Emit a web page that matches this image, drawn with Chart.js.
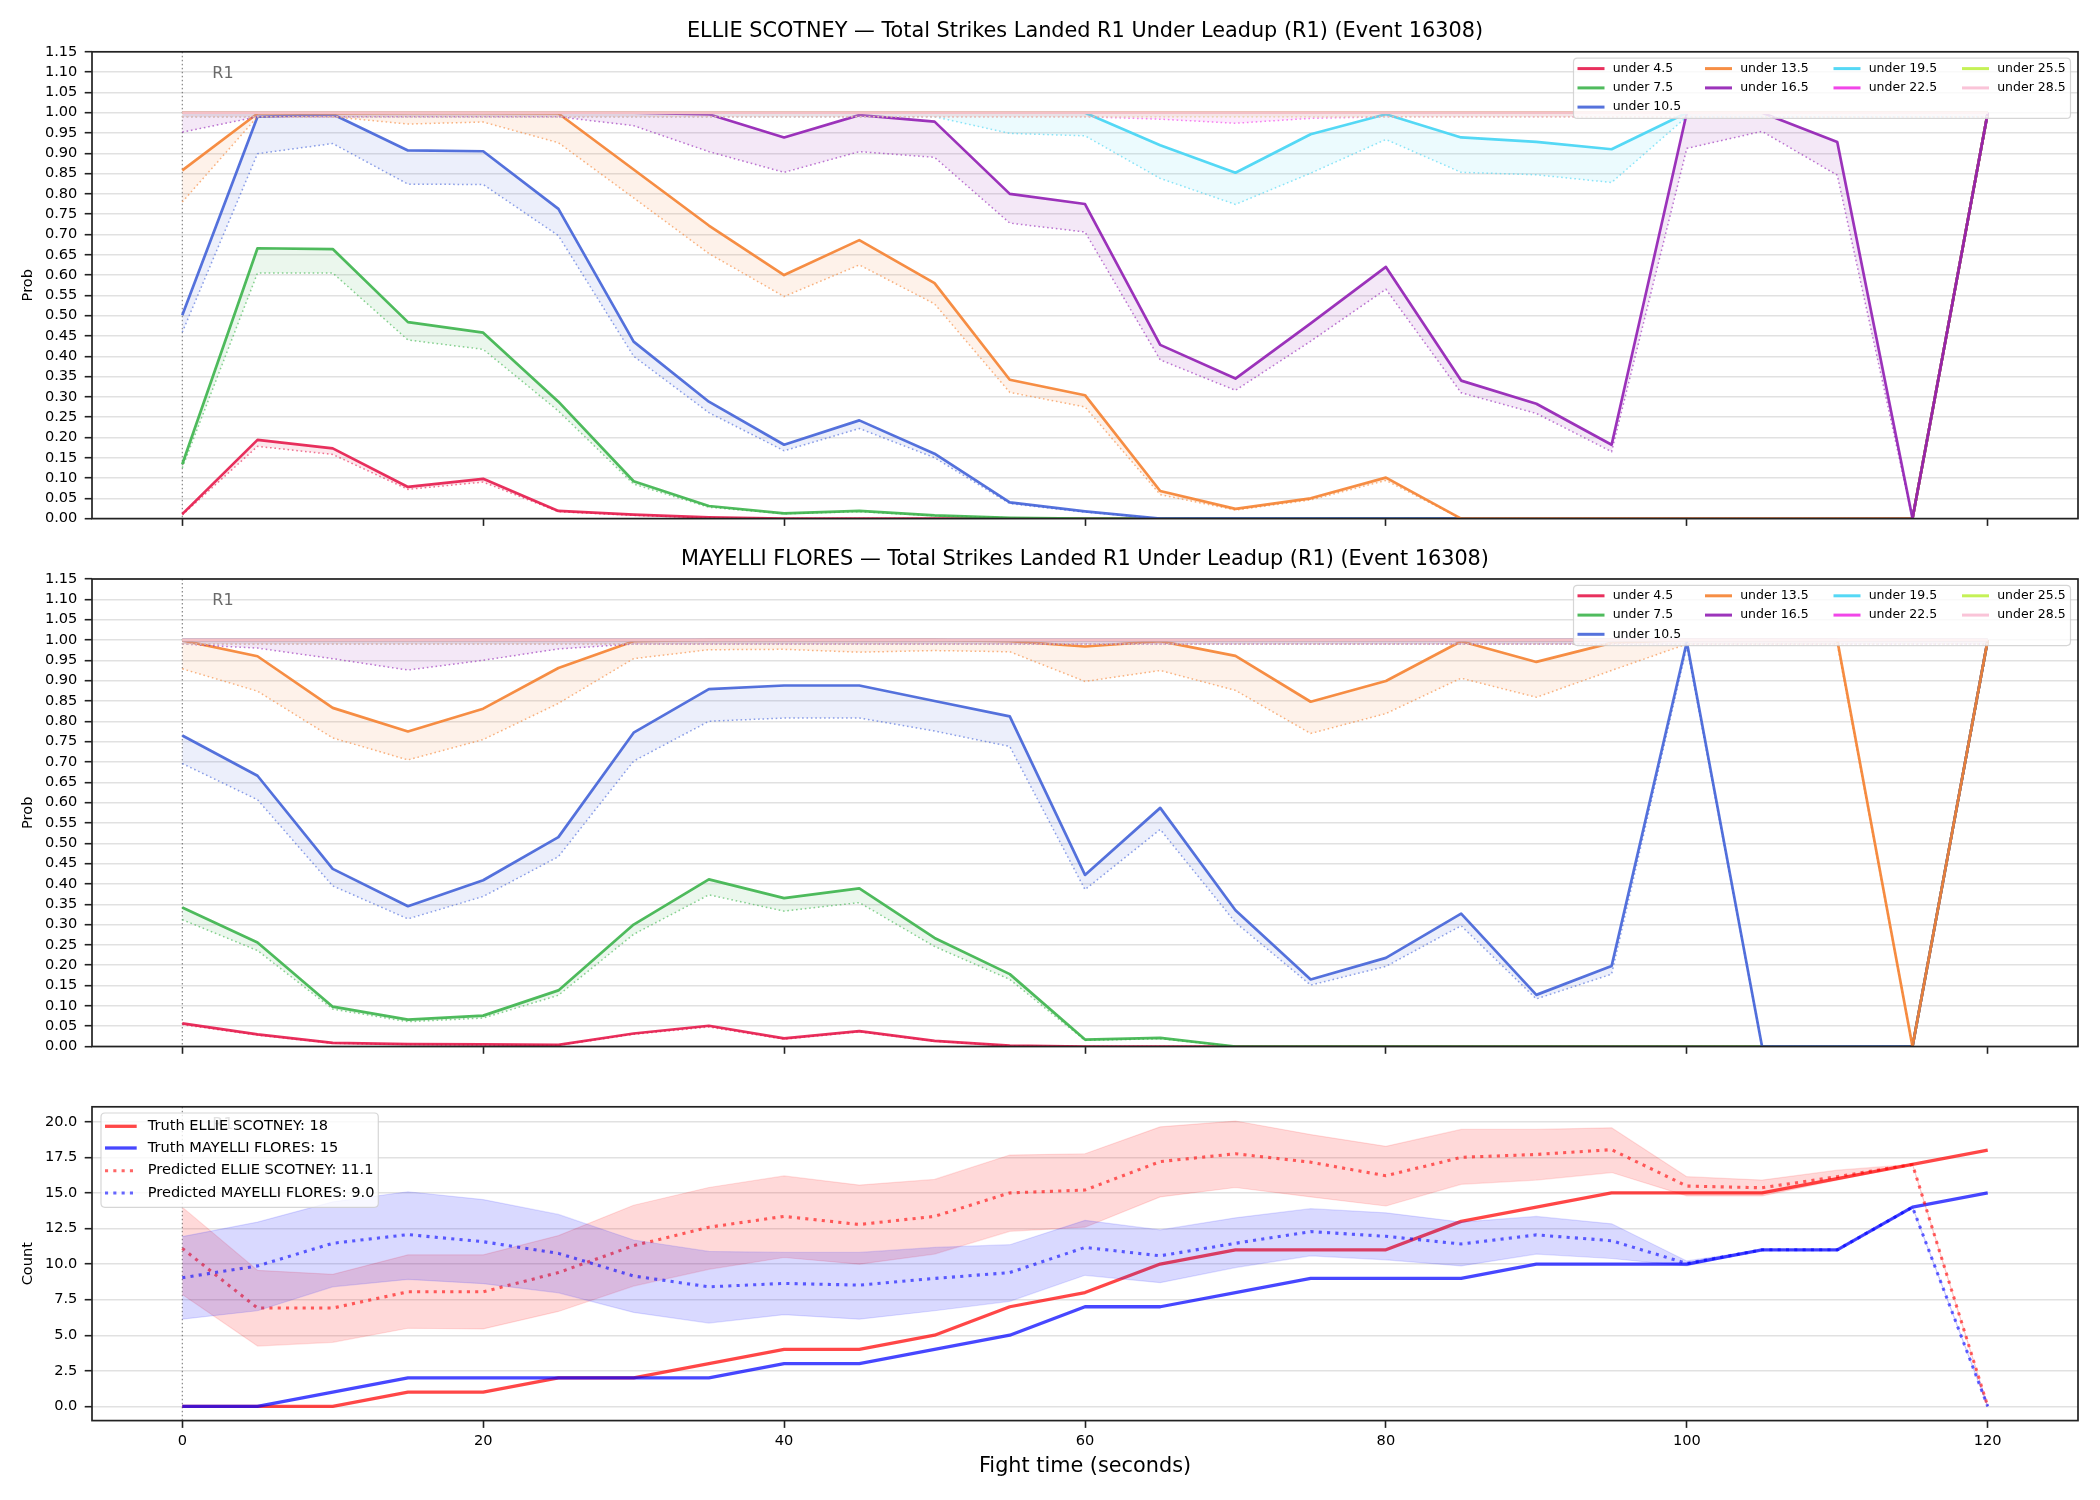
<!DOCTYPE html>
<html>
<head>
<meta charset="utf-8">
<title>Total Strikes Landed R1 Under Leadup</title>
<script src="https://cdn.jsdelivr.net/npm/chart.js@4.4.1/dist/chart.umd.min.js"></script>
<style>
html, body { margin:0; padding:0; background:#ffffff; }
#fig { position:relative; width:2100px; height:1500px; background:#ffffff; overflow:hidden; }
#fig canvas { position:absolute; left:0; }
</style>
</head>
<body>
<div id="fig">
<canvas id="c1" width="2100" height="540" style="top:0px"></canvas>
<canvas id="c2" width="2100" height="530" style="top:540px"></canvas>
<canvas id="c3" width="2100" height="430" style="top:1070px"></canvas>
</div>
<script>
// ---------------- DATA ----------------
const TIMES = [0,5,10,15,20,25,30,35,40,45,50,55,60,65,70,75,80,85,90,95,100,105,110,115,120];
const X_TICKS = [0,20,40,60,80,100,120];
const PROB_TICKS = [0.00,0.05,0.10,0.15,0.20,0.25,0.30,0.35,0.40,0.45,0.50,0.55,0.60,0.65,0.70,0.75,0.80,0.85,0.90,0.95,1.00,1.05,1.10,1.15];
const COUNT_TICKS = [0.0,2.5,5.0,7.5,10.0,12.5,15.0,17.5,20.0];

const FIGHTER_A = 'ELLIE SCOTNEY';
const FIGHTER_B = 'MAYELLI FLORES';
const TITLE_SUFFIX = ' \u2014 Total Strikes Landed R1 Under Leadup (R1) (Event 16308)';
const ROUND_LABEL = 'R1';

const THR_LABELS = ['under 4.5','under 7.5','under 10.5','under 13.5','under 16.5','under 19.5','under 22.5','under 25.5','under 28.5'];

// ELLIE SCOTNEY (top panel) : solid line and dotted line per threshold
const E_SOLID_4_5  = [0.011,0.194,0.173,0.078,0.098,0.019,0.010,0.003,0,0,0,0,0,0,0,0,0,0,0,0,0,0,0,0,1.0];
const E_DOT_4_5    = [0.009,0.178,0.158,0.072,0.090,0.017,0.008,0.002,0,0,0,0,0,0,0,0,0,0,0,0,0,0,0,0,0.99];
const E_SOLID_7_5  = [0.134,0.666,0.664,0.484,0.458,0.288,0.092,0.031,0.013,0.019,0.008,0.002,0,0,0,0,0,0,0,0,0,0,0,0,1.0];
const E_DOT_7_5    = [0.125,0.605,0.605,0.440,0.417,0.265,0.085,0.028,0.012,0.017,0.007,0.002,0,0,0,0,0,0,0,0,0,0,0,0,0.99];
const E_SOLID_10_5 = [0.501,0.990,0.996,0.907,0.905,0.763,0.436,0.288,0.182,0.242,0.160,0.040,0.018,0,0,0,0,0,0,0,0,0,0,0,1.0];
const E_DOT_10_5   = [0.459,0.899,0.924,0.824,0.823,0.697,0.400,0.261,0.167,0.222,0.150,0.037,0.016,0,0,0,0,0,0,0,0,0,0,0,0.99];
const E_SOLID_13_5 = [0.858,0.998,0.998,0.999,0.999,0.998,0.860,0.722,0.600,0.686,0.580,0.342,0.304,0.068,0.024,0.050,0.101,0,0,0,0,0,0,0,1.0];
const E_DOT_13_5   = [0.780,0.990,0.990,0.972,0.977,0.926,0.790,0.653,0.547,0.625,0.529,0.311,0.275,0.059,0.021,0.046,0.094,0,0,0,0,0,0,0,0.99];
const E_SOLID_16_5 = [1.0,1.0,1.0,1.0,1.0,1.0,1.0,0.996,0.939,0.994,0.978,0.800,0.775,0.428,0.345,0.481,0.620,0.340,0.283,0.182,1.0,1.0,0.928,0,1.0];
const E_DOT_16_5   = [0.952,0.99,0.99,0.99,0.99,0.99,0.968,0.904,0.853,0.904,0.890,0.728,0.706,0.391,0.316,0.437,0.565,0.310,0.259,0.165,0.912,0.954,0.846,0,0.99];
const E_SOLID_19_5 = [1.0,1.0,1.0,1.0,1.0,1.0,1.0,1.0,1.0,1.0,1.0,1.0,1.0,0.920,0.852,0.947,0.996,0.939,0.928,0.910,1.0,1.0,1.0,1.0,1.0];
const E_DOT_19_5   = [0.99,0.99,0.99,0.99,0.99,0.99,0.99,0.99,0.99,0.99,0.99,0.949,0.943,0.838,0.774,0.851,0.934,0.853,0.847,0.828,0.99,0.99,0.99,0.99,0.99];
const E_SOLID_22_5 = [1.0,1.0,1.0,1.0,1.0,1.0,1.0,1.0,1.0,1.0,1.0,1.0,1.0,1.0,1.0,1.0,1.0,1.0,1.0,1.0,1.0,1.0,1.0,1.0,1.0];
const E_DOT_22_5   = [0.99,0.99,0.99,0.99,0.99,0.99,0.99,0.99,0.99,0.99,0.99,0.99,0.99,0.984,0.974,0.986,0.99,0.99,0.99,0.99,0.99,0.99,0.99,0.99,0.99];
const E_SOLID_25_5 = [1.0,1.0,1.0,1.0,1.0,1.0,1.0,1.0,1.0,1.0,1.0,1.0,1.0,1.0,1.0,1.0,1.0,1.0,1.0,1.0,1.0,1.0,1.0,1.0,1.0];
const E_DOT_25_5   = [0.99,0.99,0.99,0.99,0.99,0.99,0.99,0.99,0.99,0.99,0.99,0.99,0.99,0.99,0.99,0.99,0.99,0.99,0.99,0.99,0.99,0.99,0.99,0.99,0.99];
const E_SOLID_28_5 = [1.0,1.0,1.0,1.0,1.0,1.0,1.0,1.0,1.0,1.0,1.0,1.0,1.0,1.0,1.0,1.0,1.0,1.0,1.0,1.0,1.0,1.0,1.0,1.0,1.0];
const E_DOT_28_5   = [0.99,0.99,0.99,0.99,0.99,0.99,0.99,0.99,0.99,0.99,0.99,0.99,0.99,0.99,0.99,0.99,0.99,0.99,0.99,0.99,0.99,0.99,0.99,0.99,0.99];

// MAYELLI FLORES (middle panel)
const M_SOLID_4_5  = [0.057,0.030,0.009,0.006,0.005,0.004,0.032,0.051,0.020,0.038,0.014,0.002,0,0,0,0,0,0,0,0,0,0,0,0,1.0];
const M_DOT_4_5    = [0.054,0.028,0.008,0.005,0.004,0.003,0.030,0.048,0.018,0.036,0.013,0.002,0,0,0,0,0,0,0,0,0,0,0,0,0.99];
const M_SOLID_7_5  = [0.342,0.256,0.098,0.066,0.076,0.138,0.300,0.411,0.365,0.389,0.267,0.178,0.017,0.021,0,0,0,0,0,0,0,0,0,0,1.0];
const M_DOT_7_5    = [0.312,0.236,0.092,0.061,0.070,0.126,0.276,0.373,0.333,0.354,0.246,0.165,0.015,0.019,0,0,0,0,0,0,0,0,0,0,0.99];
const M_SOLID_10_5 = [0.765,0.666,0.437,0.345,0.409,0.515,0.772,0.879,0.888,0.888,0.850,0.812,0.422,0.587,0.335,0.165,0.218,0.327,0.127,0.198,0.995,0,0,0,1.0];
const M_DOT_10_5   = [0.696,0.607,0.395,0.314,0.369,0.467,0.702,0.800,0.808,0.808,0.776,0.738,0.386,0.534,0.305,0.151,0.197,0.297,0.117,0.178,0.984,0,0,0,0.99];
const M_SOLID_13_5 = [0.999,0.960,0.833,0.775,0.831,0.931,0.997,1.0,1.0,1.0,1.0,0.997,0.984,0.997,0.961,0.848,0.899,0.997,0.946,0.993,1.0,1.0,1.0,0,1.0];
const M_DOT_13_5   = [0.929,0.874,0.759,0.705,0.755,0.844,0.954,0.976,0.977,0.970,0.974,0.971,0.898,0.925,0.876,0.770,0.819,0.906,0.859,0.925,0.99,0.99,0.99,0,0.99];
const M_SOLID_16_5 = [1.0,1.0,1.0,1.0,1.0,1.0,1.0,1.0,1.0,1.0,1.0,1.0,1.0,1.0,1.0,1.0,1.0,1.0,1.0,1.0,1.0,1.0,1.0,1.0,1.0];
const M_DOT_16_5   = [0.99,0.980,0.954,0.926,0.950,0.978,0.99,0.99,0.99,0.99,0.99,0.99,0.99,0.99,0.99,0.99,0.99,0.99,0.99,0.99,0.99,0.99,0.99,0.99,0.99];
const M_SOLID_19_5 = [1.0,1.0,1.0,1.0,1.0,1.0,1.0,1.0,1.0,1.0,1.0,1.0,1.0,1.0,1.0,1.0,1.0,1.0,1.0,1.0,1.0,1.0,1.0,1.0,1.0];
const M_DOT_19_5   = [0.99,0.99,0.99,0.99,0.99,0.99,0.99,0.99,0.99,0.99,0.99,0.99,0.99,0.99,0.99,0.99,0.99,0.99,0.99,0.99,0.99,0.99,0.99,0.99,0.99];
const M_SOLID_22_5 = [1.0,1.0,1.0,1.0,1.0,1.0,1.0,1.0,1.0,1.0,1.0,1.0,1.0,1.0,1.0,1.0,1.0,1.0,1.0,1.0,1.0,1.0,1.0,1.0,1.0];
const M_DOT_22_5   = [0.99,0.99,0.99,0.99,0.99,0.99,0.99,0.99,0.99,0.99,0.99,0.99,0.99,0.99,0.99,0.99,0.99,0.99,0.99,0.99,0.99,0.99,0.99,0.99,0.99];
const M_SOLID_25_5 = [1.0,1.0,1.0,1.0,1.0,1.0,1.0,1.0,1.0,1.0,1.0,1.0,1.0,1.0,1.0,1.0,1.0,1.0,1.0,1.0,1.0,1.0,1.0,1.0,1.0];
const M_DOT_25_5   = [0.99,0.99,0.99,0.99,0.99,0.99,0.99,0.99,0.99,0.99,0.99,0.99,0.99,0.99,0.99,0.99,0.99,0.99,0.99,0.99,0.99,0.99,0.99,0.99,0.99];
const M_SOLID_28_5 = [1.0,1.0,1.0,1.0,1.0,1.0,1.0,1.0,1.0,1.0,1.0,1.0,1.0,1.0,1.0,1.0,1.0,1.0,1.0,1.0,1.0,1.0,1.0,1.0,1.0];
const M_DOT_28_5   = [0.99,0.99,0.99,0.99,0.99,0.99,0.99,0.99,0.99,0.99,0.99,0.99,0.99,0.99,0.99,0.99,0.99,0.99,0.99,0.99,0.99,0.99,0.99,0.99,0.99];

// Count panel
const TRUTH_A   = [0,0,0,1,1,2,2,3,4,4,5,7,8,10,11,11,11,13,14,15,15,15,16,17,18];
const TRUTH_B   = [0,0,1,2,2,2,2,2,3,3,4,5,7,7,8,9,9,9,10,10,10,11,11,14,15];
const PRED_A    = [11.1,6.91,6.91,8.05,8.05,9.40,11.29,12.59,13.35,12.78,13.35,15.00,15.20,17.20,17.75,17.16,16.20,17.50,17.70,18.04,15.48,15.36,16.14,17.00,0];
const PRED_A_HI = [14.00,9.56,9.28,10.65,10.65,12.00,14.13,15.38,16.19,15.55,15.95,17.66,17.75,19.64,20.05,19.10,18.27,19.46,19.46,19.57,16.14,15.90,16.60,17.00,0];
const PRED_A_LO = [7.86,4.24,4.50,5.49,5.44,6.67,8.45,9.63,10.46,9.99,10.70,12.30,12.59,14.72,15.38,14.72,14.08,15.60,15.90,16.43,14.79,14.79,15.90,17.00,0];
const PRED_B    = [9.04,9.87,11.46,12.07,11.57,10.75,9.16,8.40,8.64,8.52,8.99,9.40,11.17,10.58,11.46,12.28,11.95,11.41,12.05,11.64,10.04,11.00,11.00,14.00,0];
const PRED_B_HI = [11.93,12.95,14.37,15.08,14.53,13.49,11.69,10.89,10.82,10.82,11.17,11.36,13.07,12.40,13.25,13.89,13.60,12.95,13.35,12.83,10.22,11.00,11.00,14.00,0];
const PRED_B_LO = [6.13,6.72,8.40,8.92,8.62,7.98,6.60,5.85,6.44,6.13,6.72,7.38,9.21,8.69,9.75,10.58,10.30,9.87,10.70,10.39,9.87,11.00,11.00,14.00,0];

// ---------------- STYLE ----------------
const FONT = "'DejaVu Sans', 'Liberation Sans', sans-serif";
const THR_COLORS = ['#e6194b','#3cb44b','#4363d8','#f58231','#911eb4','#42d4f4','#f032e6','#bfef45','#fabed4'];
const PLOT_LEFT = 92;
const RIGHT_PAD = 22;

Chart.defaults.font.family = FONT;
Chart.defaults.color = '#000';
Chart.defaults.animation = false;

function rgba(hex, a) {
  const n = parseInt(hex.slice(1), 16);
  return 'rgba(' + ((n >> 16) & 255) + ',' + ((n >> 8) & 255) + ',' + (n & 255) + ',' + a + ')';
}
const pts = arr => arr.map((v, i) => ({ x: TIMES[i], y: v }));

function probDatasets(solids, dots) {
  const ds = [];
  THR_LABELS.forEach((lab, k) => {
    const c = THR_COLORS[k];
    ds.push({ label: lab, data: pts(solids[k]), borderColor: rgba(c, 0.9), borderWidth: 2.7,
      borderJoinStyle: 'round', pointRadius: 0, pointHitRadius: 0, fill: false, tension: 0, order: -(2 * k) });
    ds.push({ label: lab + ' (dotted)', data: pts(dots[k]), borderColor: rgba(c, 0.6), borderWidth: 1.5,
      borderDash: [1.6, 2.8], pointRadius: 0, pointHitRadius: 0, fill: '-1', backgroundColor: rgba(c, 0.1),
      tension: 0, order: -(2 * k + 1) });
  });
  return ds;
}

function xScale(showLabels, axisHeight, withTitle) {
  return {
    type: 'linear', min: -6, max: 126,
    afterBuildTicks: s => { s.ticks = X_TICKS.map(v => ({ value: v })); },
    afterFit: s => { s.height = axisHeight; },
    grid: { display: true, drawOnChartArea: false, drawTicks: true, tickLength: 7.3, tickColor: '#222', tickWidth: 1.6 },
    border: { display: false },
    ticks: { display: showLabels, padding: 4.3, font: { size: 14.6 }, color: '#000', maxRotation: 0, autoSkip: false,
      callback: v => String(v) },
    title: withTitle ? { display: true, text: 'Fight time (seconds)', font: { size: 20.8 }, color: '#000',
      padding: { top: 0, bottom: 20.7 } } : { display: false }
  };
}

function yScale(ticks, decimals, min, max, title) {
  return {
    type: 'linear', min: min, max: max,
    afterBuildTicks: s => { s.ticks = ticks.map(v => ({ value: v })); },
    afterFit: s => { s.width = PLOT_LEFT; },
    grid: { display: true, drawOnChartArea: true, color: 'rgba(176,176,176,0.38)', lineWidth: 1.4,
      drawTicks: true, tickLength: 7.3, tickColor: '#222', tickWidth: 1.6 },
    border: { display: false },
    ticks: { padding: 7.3, font: { size: 14.6 }, color: '#000', autoSkip: false,
      callback: v => Number(v).toFixed(decimals) },
    title: { display: true, text: title, font: { size: 14.6 }, color: '#000', padding: { top: 19.2, bottom: 0 } }
  };
}

function roundRectPath(ctx, x, y, w, h, r) {
  ctx.beginPath();
  ctx.moveTo(x + r, y);
  ctx.lineTo(x + w - r, y); ctx.quadraticCurveTo(x + w, y, x + w, y + r);
  ctx.lineTo(x + w, y + h - r); ctx.quadraticCurveTo(x + w, y + h, x + w - r, y + h);
  ctx.lineTo(x + r, y + h); ctx.quadraticCurveTo(x, y + h, x, y + h - r);
  ctx.lineTo(x, y + r); ctx.quadraticCurveTo(x, y, x + r, y);
  ctx.closePath();
}

function drawLegend(ctx, a, L) {
  const bx = L.anchorRight ? a.right - L.dx - L.w : a.left + L.dx;
  const by = a.top + L.dy;
  roundRectPath(ctx, bx, by, L.w, L.h, 4);
  ctx.fillStyle = 'rgba(255,255,255,0.8)';
  ctx.fill();
  ctx.strokeStyle = 'rgba(204,204,204,0.8)';
  ctx.lineWidth = 1.2;
  ctx.setLineDash([]);
  ctx.stroke();
  L.items.forEach(it => {
    const lx = bx + it.cx, ly = a.top + it.cy;
    ctx.beginPath();
    ctx.strokeStyle = it.color; ctx.lineWidth = it.width; ctx.setLineDash(it.dash || []);
    ctx.moveTo(lx, ly); ctx.lineTo(lx + L.handle, ly); ctx.stroke();
    ctx.setLineDash([]);
    ctx.fillStyle = '#000';
    ctx.font = L.fontSize + 'px ' + FONT;
    ctx.textBaseline = 'middle'; ctx.textAlign = 'left';
    ctx.fillText(it.label, lx + L.textGap, ly);
  });
}

const decoPlugin = {
  id: 'deco',
  beforeDatasetsDraw(chart) {
    const { ctx, chartArea: a } = chart;
    const px = chart.scales.x.getPixelForValue(0);
    ctx.save();
    ctx.strokeStyle = 'rgba(60,60,60,0.75)'; ctx.lineWidth = 1; ctx.setLineDash([1.5, 2.5]);
    ctx.beginPath(); ctx.moveTo(px, a.top); ctx.lineTo(px, a.bottom); ctx.stroke();
    ctx.restore();
  },
  afterDatasetsDraw(chart, args, opts) {
    const { ctx, chartArea: a } = chart;
    ctx.save();
    ctx.font = '16px ' + FONT; ctx.fillStyle = '#6a6a6a';
    ctx.textBaseline = 'middle'; ctx.textAlign = 'left';
    ctx.fillText(ROUND_LABEL, chart.scales.x.getPixelForValue(2), a.top + opts.r1dy);
    ctx.strokeStyle = '#222'; ctx.lineWidth = 1.7; ctx.setLineDash([]);
    ctx.strokeRect(a.left, a.top, a.right - a.left, a.bottom - a.top);
    if (opts.legend) drawLegend(ctx, a, opts.legend);
    ctx.restore();
  }
};

// top legends (4 columns: 3,2,2,2)
const PROB_COL_X = [4, 131.5, 260, 388.5];
const PROB_ROW_Y = [16.8, 36.1, 55.3];
const PROB_SLOTS = [[0,0],[0,1],[0,2],[1,0],[1,1],[2,0],[2,1],[3,0],[3,1]];
const probLegend = {
  anchorRight: true, dx: 7.5, dy: 6.3, w: 497, h: 60.3, handle: 27, textGap: 35.2, fontSize: 12.5,
  items: THR_LABELS.map((lab, k) => ({ label: lab, color: rgba(THR_COLORS[k], 0.9), width: 3,
    cx: PROB_COL_X[PROB_SLOTS[k][0]], cy: PROB_ROW_Y[PROB_SLOTS[k][1]] }))
};

function probChart(id, solids, dots, fighter, canvasH, plotTop, plotBottom, titleCenter) {
  const lh = 20.8 * 1.2;
  const padTop = titleCenter - lh / 2;
  const padBottom = plotTop - padTop - lh;
  return new Chart(document.getElementById(id), {
    type: 'line',
    data: { datasets: probDatasets(solids, dots) },
    options: {
      responsive: false, devicePixelRatio: 1, animation: false, events: [],
      layout: { padding: { left: 0, right: RIGHT_PAD, top: 0, bottom: 0 } },
      scales: {
        x: xScale(false, canvasH - plotBottom, false),
        y: yScale(PROB_TICKS, 2, 0, 1.15, 'Prob')
      },
      plugins: {
        legend: { display: false }, tooltip: { enabled: false },
        title: { display: true, text: fighter + TITLE_SUFFIX, fullSize: false, color: '#000',
          font: { size: 20.8, weight: 'normal' }, padding: { top: padTop, bottom: padBottom } },
        deco: { r1dy: 22, legend: probLegend }
      }
    },
    plugins: [decoPlugin]
  });
}

probChart('c1',
  [E_SOLID_4_5,E_SOLID_7_5,E_SOLID_10_5,E_SOLID_13_5,E_SOLID_16_5,E_SOLID_19_5,E_SOLID_22_5,E_SOLID_25_5,E_SOLID_28_5],
  [E_DOT_4_5,E_DOT_7_5,E_DOT_10_5,E_DOT_13_5,E_DOT_16_5,E_DOT_19_5,E_DOT_22_5,E_DOT_25_5,E_DOT_28_5],
  FIGHTER_A, 540, 51.8, 518.6, 31.4);

probChart('c2',
  [M_SOLID_4_5,M_SOLID_7_5,M_SOLID_10_5,M_SOLID_13_5,M_SOLID_16_5,M_SOLID_19_5,M_SOLID_22_5,M_SOLID_25_5,M_SOLID_28_5],
  [M_DOT_4_5,M_DOT_7_5,M_DOT_10_5,M_DOT_13_5,M_DOT_16_5,M_DOT_19_5,M_DOT_22_5,M_DOT_25_5,M_DOT_28_5],
  FIGHTER_B, 530, 39, 506.5, 19.3);

// ---------------- COUNT PANEL ----------------
const RED_TRUTH = 'rgba(255,0,0,0.72)', BLUE_TRUTH = 'rgba(0,0,255,0.72)';
const RED_PRED = 'rgba(255,0,0,0.6)', BLUE_PRED = 'rgba(0,0,255,0.6)';
const PRED_DASH = [3.1, 5.2];

const countLegend = {
  anchorRight: false, dx: 9, dy: 6.2, w: 277.3, h: 94.3, handle: 31.7, textGap: 42.7, fontSize: 14.6,
  items: [
    { label: 'Truth ' + FIGHTER_A + ': ' + TRUTH_A[TRUTH_A.length - 1], color: RED_TRUTH, width: 3.3, cx: 4, cy: 19.5 },
    { label: 'Truth ' + FIGHTER_B + ': ' + TRUTH_B[TRUTH_B.length - 1], color: BLUE_TRUTH, width: 3.3, cx: 4, cy: 41.2 },
    { label: 'Predicted ' + FIGHTER_A + ': ' + PRED_A[0].toFixed(1), color: RED_PRED, width: 3.1, dash: PRED_DASH, cx: 4, cy: 63.9 },
    { label: 'Predicted ' + FIGHTER_B + ': ' + PRED_B[0].toFixed(1), color: BLUE_PRED, width: 3.1, dash: PRED_DASH, cx: 4, cy: 86.2 }
  ]
};

const lineBase = { pointRadius: 0, pointHitRadius: 0, tension: 0, borderJoinStyle: 'round' };
new Chart(document.getElementById('c3'), {
  type: 'line',
  data: {
    datasets: [
      Object.assign({ label: 'Truth ' + FIGHTER_A, data: pts(TRUTH_A), borderColor: RED_TRUTH, borderWidth: 3.3, fill: false, order: 0 }, lineBase),
      Object.assign({ label: 'Truth ' + FIGHTER_B, data: pts(TRUTH_B), borderColor: BLUE_TRUTH, borderWidth: 3.3, fill: false, order: -1 }, lineBase),
      Object.assign({ label: FIGHTER_A + ' upper', data: pts(PRED_A_HI), borderColor: 'rgba(255,0,0,0.12)', borderWidth: 1.2, fill: false, order: -2 }, lineBase),
      Object.assign({ label: FIGHTER_A + ' lower', data: pts(PRED_A_LO), borderColor: 'rgba(255,0,0,0.12)', borderWidth: 1.2, fill: '-1', backgroundColor: 'rgba(255,0,0,0.15)', order: -3 }, lineBase),
      Object.assign({ label: 'Predicted ' + FIGHTER_A, data: pts(PRED_A), borderColor: RED_PRED, borderWidth: 3.1, borderDash: PRED_DASH, fill: false, order: -4 }, lineBase),
      Object.assign({ label: FIGHTER_B + ' upper', data: pts(PRED_B_HI), borderColor: 'rgba(0,0,255,0.12)', borderWidth: 1.2, fill: false, order: -5 }, lineBase),
      Object.assign({ label: FIGHTER_B + ' lower', data: pts(PRED_B_LO), borderColor: 'rgba(0,0,255,0.12)', borderWidth: 1.2, fill: '-1', backgroundColor: 'rgba(0,0,255,0.15)', order: -6 }, lineBase),
      Object.assign({ label: 'Predicted ' + FIGHTER_B, data: pts(PRED_B), borderColor: BLUE_PRED, borderWidth: 3.1, borderDash: PRED_DASH, fill: false, order: -7 }, lineBase)
    ]
  },
  options: {
    responsive: false, devicePixelRatio: 1, animation: false, events: [],
    layout: { padding: { left: 0, right: RIGHT_PAD, top: 36.8, bottom: 0 } },
    scales: {
      x: xScale(true, 430 - 350.6, true),
      y: yScale(COUNT_TICKS, 1, -1.0, 21.05, 'Count')
    },
    plugins: {
      legend: { display: false }, tooltip: { enabled: false }, title: { display: false },
      deco: { r1dy: 18, legend: countLegend }
    }
  },
  plugins: [decoPlugin]
});
</script>
</body>
</html>
